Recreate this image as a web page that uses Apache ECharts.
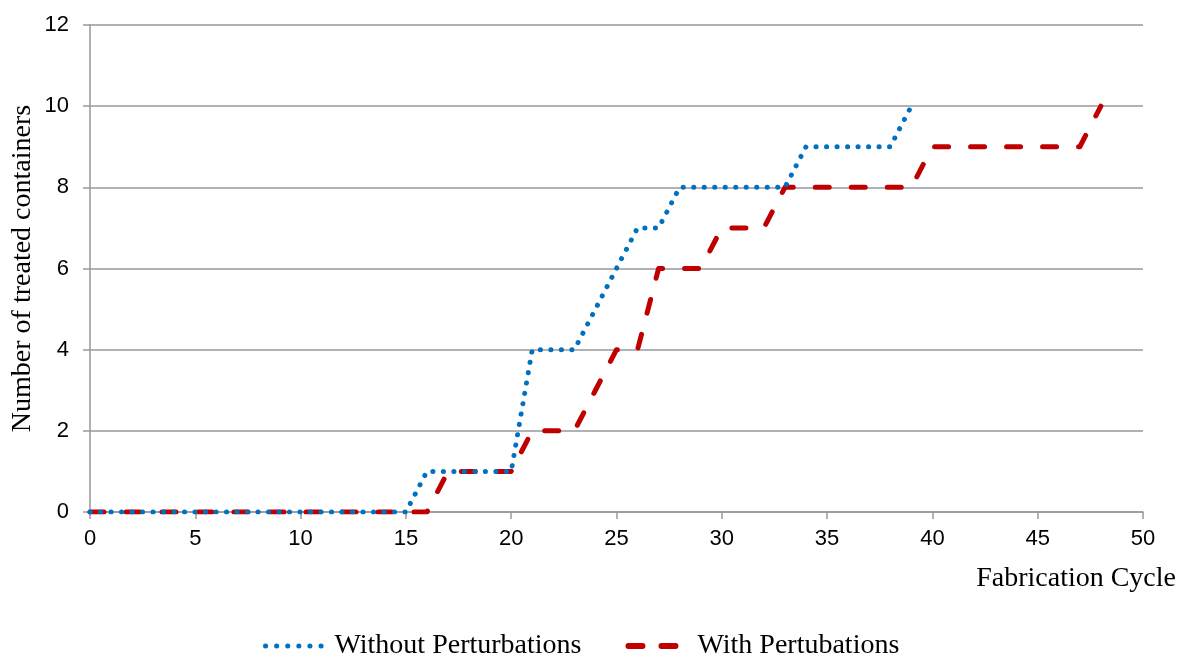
<!DOCTYPE html>
<html>
<head>
<meta charset="utf-8">
<script src="https://cdn.jsdelivr.net/npm/echarts@6/dist/echarts.min.js"></script>
<style>
  html, body { margin: 0; padding: 0; background: #fff; }
  #chart { width: 1182px; height: 657px; }
</style>
</head>
<body>
<div id="chart"></div>
<script>
// Containers treated per fabrication cycle
const cyclesWithout = Array.from({ length: 40 }, (_, i) => i);   // cycles 0..39
const valuesWithout = [
  0, 0, 0, 0, 0, 0, 0, 0, 0, 0, 0, 0, 0, 0, 0, 0,   // 0-15
  1, 1, 1, 1, 1,                                    // 16-20
  4, 4, 4,                                          // 21-23
  5, 6, 7, 7,                                       // 24-27
  8, 8, 8, 8, 8, 8,                                 // 28-33
  9, 9, 9, 9, 9,                                    // 34-38
  10                                                // 39
];

const cyclesWith = Array.from({ length: 49 }, (_, i) => i);      // cycles 0..48
const valuesWith = [
  0, 0, 0, 0, 0, 0, 0, 0, 0, 0, 0, 0, 0, 0, 0, 0, 0, // 0-16
  1, 1, 1, 1,                                       // 17-20
  2, 2, 2,                                          // 21-23
  3,                                                // 24
  4, 4,                                             // 25-26
  6, 6, 6,                                          // 27-29
  7, 7, 7,                                          // 30-32
  8, 8, 8, 8, 8, 8, 8,                              // 33-39
  9, 9, 9, 9, 9, 9, 9, 9,                           // 40-47
  10                                                // 48
];

const seriesNames = ['Without Perturbations', 'With Pertubations'];
const xTitle = 'Fabrication Cycle';
const yTitle = 'Number of treated containers';

const serif = '"Liberation Serif", "Times New Roman", serif';
const sans = '"Liberation Sans", Arial, sans-serif';
const gridGray = '#999999';
const blue = '#0070C0';
const red = '#C00000';

const dotted = { color: blue, width: 5, type: [0.1, 10.4], cap: 'round', join: 'round' };
const dashed = { color: red, width: 5, type: [14, 22], cap: 'round', join: 'round' };

const pairs = (xs, ys) => xs.map((x, i) => [x, ys[i]]);

const chart = echarts.init(document.getElementById('chart'), null, { renderer: 'canvas' });

chart.setOption({
  backgroundColor: '#ffffff',
  animation: false,
  grid: { left: 90, right: 39, top: 25, bottom: 145, containLabel: false, outerBoundsMode: 'none' },
  legend: {
    top: 627,
    left: 258,
    itemWidth: 56,
    itemHeight: 14,
    itemGap: 44,
    itemStyle: { opacity: 0 },
    data: [
      { name: seriesNames[0], lineStyle: { color: blue, width: 5, type: [0.1, 11], cap: 'round' } },
      { name: seriesNames[1], lineStyle: { color: red, width: 6, type: [14, 19], cap: 'round' } }
    ],
    textStyle: { fontFamily: serif, fontSize: 28, color: '#000', padding: [0, 0, 0, 8] }
  },
  xAxis: {
    type: 'value',
    min: 0,
    max: 50,
    interval: 5,
    axisLine: { show: true, lineStyle: { color: gridGray, width: 1.5 } },
    axisTick: { show: true, length: 7, lineStyle: { color: gridGray, width: 1.5 } },
    splitLine: { show: false },
    axisLabel: { fontFamily: sans, fontSize: 22, color: '#000', margin: 16 }
  },
  yAxis: {
    type: 'value',
    min: 0,
    max: 12,
    interval: 2,
    name: yTitle,
    nameLocation: 'middle',
    nameGap: 53,
    nameMoveOverlap: false,
    nameTextStyle: { fontFamily: serif, fontSize: 28, color: '#000' },
    axisLine: { show: true, lineStyle: { color: gridGray, width: 1.5 } },
    axisTick: { show: true, length: 7, lineStyle: { color: gridGray, width: 1.5 } },
    splitLine: { show: true, lineStyle: { color: gridGray, width: 1.5 } },
    axisLabel: { fontFamily: sans, fontSize: 22, color: '#000', margin: 21 }
  },
  graphic: [{
    type: 'text',
    right: 6,
    top: 565,
    style: { text: xTitle, font: '28px ' + serif, fill: '#000' }
  }],
  series: [
    {
      name: seriesNames[0],
      type: 'line',
      data: pairs(cyclesWithout, valuesWithout),
      symbol: 'none',
      z: 3,
      color: blue,
      lineStyle: dotted
    },
    {
      name: seriesNames[1],
      type: 'line',
      data: pairs(cyclesWith, valuesWith),
      symbol: 'none',
      z: 2,
      color: red,
      lineStyle: dashed
    }
  ]
});
</script>
</body>
</html>
